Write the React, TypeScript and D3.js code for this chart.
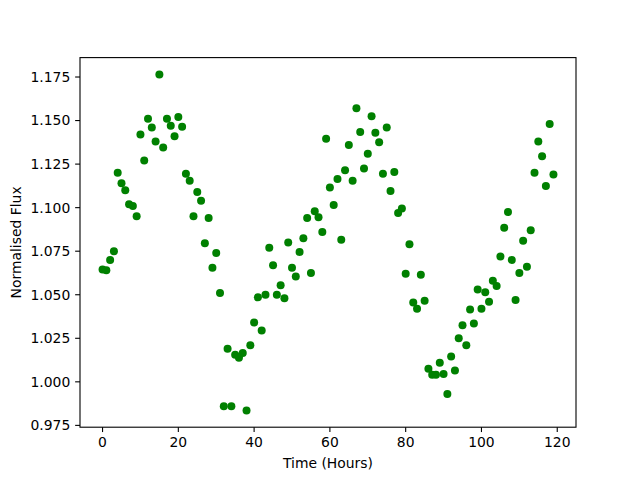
import React from "react";
import * as d3 from "d3";

const hours: number[] = Array.from({ length: 120 }, (_, i) => i);
const flux: number[] = [
  1.0645, 1.064, 1.070, 1.075, 1.120, 1.114, 1.110, 1.102, 1.101, 1.095,
  1.142, 1.127, 1.151, 1.146, 1.138, 1.1765, 1.1345, 1.151, 1.147, 1.141,
  1.152, 1.1465, 1.1195, 1.1155, 1.095, 1.109, 1.104, 1.0795, 1.094, 1.0655,
  1.074, 1.051, 0.986, 1.019, 0.986, 1.0155, 1.0138, 1.0165, 0.9836, 1.021,
  1.034, 1.0485, 1.0295, 1.050, 1.077, 1.067, 1.050, 1.0555, 1.048, 1.080,
  1.0655, 1.0605, 1.0745, 1.0825, 1.094, 1.0625, 1.098, 1.0945, 1.086, 1.1395,
  1.1115, 1.1015, 1.1165, 1.0815, 1.1215, 1.136, 1.1155, 1.157, 1.1435, 1.1225,
  1.131, 1.1525, 1.143, 1.1375, 1.1195, 1.146, 1.1095, 1.1205, 1.097, 1.0995,
  1.062, 1.079, 1.0455, 1.0420, 1.0615, 1.0465, 1.0075, 1.004, 1.004, 1.011,
  1.0045, 0.993, 1.0145, 1.0065, 1.025, 1.0325, 1.021, 1.0415, 1.0335, 1.053,
  1.042, 1.0515, 1.046, 1.058, 1.055, 1.072, 1.0885, 1.0975, 1.070, 1.047,
  1.0625, 1.081, 1.066, 1.087, 1.120, 1.138, 1.1295, 1.1125, 1.148, 1.119,
];
const xTicks: number[] = [0, 20, 40, 60, 80, 100, 120];
const yTicks: number[] = [0.975, 1.0, 1.025, 1.05, 1.075, 1.1, 1.125, 1.15, 1.175];

const W = 640, H = 480;
const L = 80, R = 576, T = 57.6, B = 427.2;

export default function App() {
  const xmin = d3.min(hours)!, xmax = d3.max(hours)!;
  const ymin = d3.min(flux)!, ymax = d3.max(flux)!;
  const xp = (xmax - xmin) * 0.05, yp = (ymax - ymin) * 0.05;
  const x = d3.scaleLinear().domain([xmin - xp, xmax + xp]).range([L, R]);
  const y = d3.scaleLinear().domain([ymin - yp, ymax + yp]).range([B, T]);
  const font = "DejaVu Sans, sans-serif";
  const tl = 4.86;
  return (
    <svg width={W} height={H} style={{ position: "absolute", left: 0, top: 0, background: "#fff" }}>
      <rect x={0} y={0} width={W} height={H} fill="#fff" />
      {hours.map((h, i) => (
        <circle key={i} cx={x(h)} cy={y(flux[i])} r={4} fill="#008000" />
      ))}
      <rect x={L} y={T} width={R - L} height={B - T} fill="none" stroke="#000" strokeWidth={1.1} />
      {xTicks.map((t) => (
        <g key={t}>
          <line x1={x(t)} x2={x(t)} y1={B} y2={B + tl} stroke="#000" strokeWidth={1.1} />
          <text x={x(t)} y={B + tl + 4.86 + 10.5} textAnchor="middle" fontFamily={font} fontSize={13.9} fill="#000">
            {t}
          </text>
        </g>
      ))}
      {yTicks.map((t) => (
        <g key={t}>
          <line x1={L - tl} x2={L} y1={y(t)} y2={y(t)} stroke="#000" strokeWidth={1.1} />
          <text x={L - tl - 4.86} y={y(t)} dy="0.35em" textAnchor="end" fontFamily={font} fontSize={13.9} fill="#000">
            {d3.format(".3f")(t)}
          </text>
        </g>
      ))}
      <text x={(L + R) / 2} y={468} textAnchor="middle" fontFamily={font} fontSize={13.9} fill="#000">
        Time (Hours)
      </text>
      <text
        transform={`translate(21,${(T + B) / 2}) rotate(-90)`}
        textAnchor="middle"
        fontFamily={font}
        fontSize={13.9}
        fill="#000"
      >
        Normalised Flux
      </text>
    </svg>
  );
}
